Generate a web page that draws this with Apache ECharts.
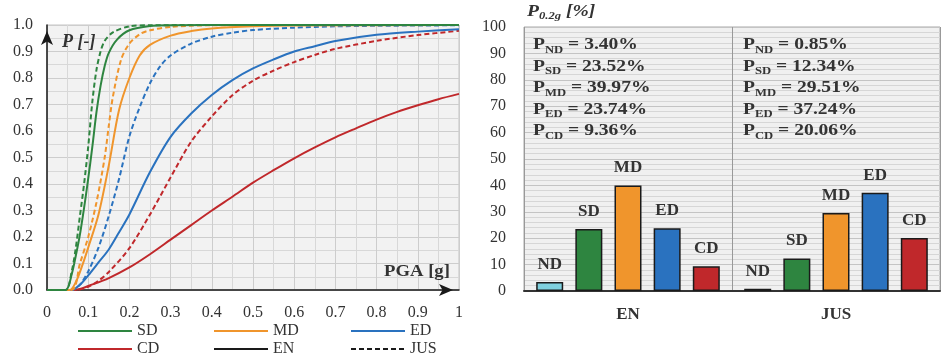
<!DOCTYPE html>
<html>
<head>
<meta charset="utf-8">
<script src="https://cdn.jsdelivr.net/npm/echarts@6/dist/echarts.min.js"></script>
<style>
  html, body { margin: 0; padding: 0; background: #fff; }
  #chart { width: 945px; height: 358px; }
</style>
</head>
<body>
<div id="chart"></div>
<script>
// fragility curves [PGA, P]
var sdEN = [[0,0],[0.045,0],[0.06,0.06],[0.07,0.13],[0.08,0.21],[0.09,0.31],[0.1,0.42],[0.11,0.54],[0.12,0.67],[0.13,0.77],[0.14,0.845],[0.15,0.895],[0.17,0.945],[0.2,0.98],[0.25,0.996],[0.3,0.999],[0.5,1],[1,1]];
var sdJUS = [[0,0],[0.045,0],[0.06,0.07],[0.07,0.16],[0.08,0.28],[0.09,0.4],[0.1,0.54],[0.11,0.71],[0.12,0.83],[0.13,0.9],[0.14,0.94],[0.16,0.972],[0.2,0.995],[0.25,0.999],[0.5,1],[1,1]];
var mdEN = [[0,0],[0.055,0],[0.07,0.03],[0.085,0.09],[0.1,0.16],[0.125,0.285],[0.15,0.47],[0.175,0.68],[0.2,0.8],[0.225,0.885],[0.25,0.925],[0.3,0.96],[0.35,0.977],[0.4,0.987],[0.5,0.995],[0.6,0.998],[1,1]];
var mdJUS = [[0,0],[0.06,0],[0.08,0.1],[0.1,0.2],[0.12,0.33],[0.14,0.5],[0.15,0.62],[0.16,0.73],[0.18,0.87],[0.2,0.93],[0.225,0.965],[0.25,0.98],[0.3,0.993],[0.4,0.999],[1,1]];
var edEN = [[0,0],[0.06,0],[0.08,0.02],[0.1,0.055],[0.125,0.104],[0.15,0.153],[0.175,0.218],[0.2,0.285],[0.25,0.445],[0.3,0.578],[0.35,0.666],[0.4,0.736],[0.45,0.792],[0.5,0.836],[0.55,0.87],[0.6,0.9],[0.65,0.92],[0.7,0.94],[0.8,0.963],[0.9,0.975],[1,0.984]];
var edJUS = [[0,0],[0.06,0],[0.08,0.02],[0.1,0.07],[0.125,0.16],[0.15,0.28],[0.175,0.42],[0.2,0.58],[0.225,0.69],[0.25,0.78],[0.275,0.845],[0.3,0.885],[0.35,0.93],[0.4,0.956],[0.45,0.971],[0.5,0.981],[0.6,0.99],[0.7,0.995],[0.8,0.997],[1,0.999]];
var cdEN = [[0,0],[0.06,0],[0.08,0.004],[0.1,0.015],[0.15,0.045],[0.2,0.085],[0.25,0.135],[0.3,0.19],[0.35,0.245],[0.4,0.3],[0.45,0.352],[0.5,0.405],[0.55,0.452],[0.6,0.497],[0.65,0.538],[0.7,0.576],[0.75,0.61],[0.8,0.643],[0.85,0.672],[0.9,0.697],[0.95,0.72],[1,0.74]];
var cdJUS = [[0,0],[0.07,0],[0.1,0.012],[0.125,0.035],[0.15,0.068],[0.2,0.158],[0.25,0.285],[0.3,0.425],[0.35,0.56],[0.4,0.655],[0.45,0.735],[0.5,0.79],[0.55,0.828],[0.6,0.86],[0.65,0.887],[0.7,0.91],[0.8,0.94],[0.9,0.962],[1,0.978]];

// bar panel (P at 0.2g, %)
var groups = ['EN', 'JUS'];
var damage = ['ND', 'SD', 'MD', 'ED', 'CD'];
var enPct = [3.40, 23.52, 39.97, 23.74, 9.36];
var jusPct = [0.85, 12.34, 29.51, 37.24, 20.06];

var xTickLabels = ['0','0.1','0.2','0.3','0.4','0.5','0.6','0.7','0.8','0.9','1'];
var yTickLabels = ['0.0','0.1','0.2','0.3','0.4','0.5','0.6','0.7','0.8','0.9','1.0'];

var colors = { ND: '#7fd0de', SD: '#2e8540', MD: '#f0952c', ED: '#2a72bf', CD: '#c0282b' };
var serif = '"Liberation Serif", "DejaVu Serif", serif';
var txt = '#333333';

var chart = echarts.init(document.getElementById('chart'));

function curve(name, data, color, dashed) {
  return {
    name: name, type: 'line', xAxisIndex: 0, yAxisIndex: 0,
    data: data, symbol: 'none', smooth: 0.3,
    lineStyle: { color: color, width: 2, type: dashed ? [5, 3] : 'solid' },
    z: 3, silent: true
  };
}
function dummy(name, color, dashed) {
  return {
    name: name, type: 'line', data: [], symbol: 'none',
    itemStyle: { color: color },
    lineStyle: { color: color, width: 2, type: dashed ? [5, 3] : 'solid' }
  };
}
function legendCol(left, names) {
  return {
    orient: 'vertical', left: left, top: 323, data: names,
    itemWidth: 54, itemHeight: 14, itemGap: 2, padding: 0,
    itemStyle: { opacity: 0 },
    textStyle: { fontFamily: serif, fontSize: 16, color: txt, lineHeight: 14 },
    selectedMode: false
  };
}

// rich text boxes with subscripts
function pBox(vals) {
  return damage.map(function (d, i) {
    return '{p|P}{s|' + d + '}{p| = ' + vals[i].toFixed(2) + '%}';
  }).join('\n');
}
var boxRich = {
  p: { fontFamily: serif, fontSize: 17, fontWeight: 'bold', fill: txt, lineHeight: 21.5 },
  s: { fontFamily: serif, fontSize: 11, fontWeight: 'bold', fill: txt, lineHeight: 21.5, verticalAlign: 'bottom' }
};

var barSeries = damage.map(function (d, i) {
  return {
    name: d, type: 'bar', xAxisIndex: 1, yAxisIndex: 1,
    data: [enPct[i], jusPct[i]],
    barWidth: 27, barGap: '45%',
    itemStyle: { color: colors[d], borderColor: '#1a1a1a', borderWidth: 1.5 },
    label: {
      show: true, position: 'top', distance: 9, formatter: d,
      fontFamily: serif, fontSize: 17, fontWeight: 'bold', color: txt
    },
    z: 3
  };
});

var option = {
  animation: false,
  backgroundColor: '#ffffff',
  grid: [
    { left: 47, right: 486, top: 25, bottom: 68, show: true, backgroundColor: '#f2f2f2', borderColor: '#c4c4c4', borderWidth: 1, containLabel: false, outerBoundsMode: 'none' },
    { left: 524, right: 5, top: 27, bottom: 67, show: true, backgroundColor: '#f0f0f0', borderColor: '#a8a8a8', borderWidth: 1, containLabel: false, outerBoundsMode: 'none' }
  ],
  legend: [
    legendCol(77, ['SD', 'CD']),
    legendCol(213, ['MD', 'EN']),
    legendCol(350, ['ED', 'JUS'])
  ],
  xAxis: [
    {
      type: 'value', gridIndex: 0, min: 0, max: 1, interval: 0.1,
      axisLine: { show: true, onZero: false, lineStyle: { color: '#1a1a1a', width: 1.5 }, symbol: ['none', 'arrow'], symbolSize: [9, 14], symbolOffset: [0, -6] },
      axisTick: { show: false },
      axisLabel: { margin: 15, fontFamily: serif, fontSize: 16, color: txt, formatter: function (v) { return xTickLabels[Math.round(v * 10)]; } },
      splitLine: { show: true, lineStyle: { color: '#cdcdcd', width: 1 } },
      minorTick: { show: false, splitNumber: 2 },
      minorSplitLine: { show: true, lineStyle: { color: '#d8d8d8', width: 1 } }
    },
    {
      type: 'category', gridIndex: 1, data: groups,
      axisLine: { show: true, lineStyle: { color: '#333333', width: 2 } },
      axisTick: { show: false },
      axisLabel: { margin: 15, fontFamily: serif, fontSize: 17, fontWeight: 'bold', color: txt },
      splitLine: { show: true, interval: 0, lineStyle: { color: '#999999', width: 1 } }
    }
  ],
  yAxis: [
    {
      type: 'value', gridIndex: 0, min: 0, max: 1, interval: 0.1,
      axisLine: { show: true, onZero: false, lineStyle: { color: '#1a1a1a', width: 1.5 }, symbol: ['none', 'arrow'], symbolSize: [9, 14], symbolOffset: [0, -6] },
      axisTick: { show: false },
      axisLabel: { margin: 14, fontFamily: serif, fontSize: 16, color: txt, formatter: function (v) { return yTickLabels[Math.round(v * 10)]; } },
      splitLine: { show: true, lineStyle: { color: '#cdcdcd', width: 1 } },
      minorTick: { show: false, splitNumber: 2 },
      minorSplitLine: { show: true, lineStyle: { color: '#d8d8d8', width: 1 } }
    },
    {
      type: 'value', gridIndex: 1, min: 0, max: 100, interval: 10,
      axisLine: { show: false },
      axisTick: { show: false },
      axisLabel: { margin: 18, fontFamily: serif, fontSize: 16, color: txt },
      splitLine: { show: true, lineStyle: { color: '#c4c4c4', width: 1 } },
      minorTick: { show: false, splitNumber: 5 },
      minorSplitLine: { show: true, lineStyle: { color: '#d6d6d6', width: 1 } }
    }
  ],
  graphic: [
    { type: 'text', x: 62, y: 33, z: 10, style: { text: 'P [-]', font: 'italic bold 18px ' + serif, fill: txt } },
    { type: 'text', x: 384, y: 263, scaleX: 1.1, z: 10, style: { text: 'PGA [g]', font: 'bold 17px ' + serif, fill: txt } },
    { type: 'text', x: 527, y: 2, scaleX: 1.15, z: 10, style: {
        text: '{p|P}{s|0.2g}{p| [%]}',
        rich: {
          p: { fontFamily: serif, fontSize: 17, fontWeight: 'bold', fontStyle: 'italic', fill: txt, lineHeight: 20 },
          s: { fontFamily: serif, fontSize: 11, fontWeight: 'bold', fontStyle: 'italic', fill: txt, lineHeight: 20, verticalAlign: 'bottom' }
        }
      } },
    { type: 'text', x: 533, y: 34, scaleX: 1.15, z: 10, style: { text: pBox(enPct), rich: boxRich } },
    { type: 'text', x: 743, y: 34, scaleX: 1.15, z: 10, style: { text: pBox(jusPct), rich: boxRich } }
  ],
  series: [
    dummy('SD', colors.SD, false),
    dummy('MD', colors.MD, false),
    dummy('ED', colors.ED, false),
    dummy('CD', colors.CD, false),
    dummy('EN', '#1a1a1a', false),
    dummy('JUS', '#1a1a1a', true),
    curve('CD-EN', cdEN, colors.CD, false),
    curve('CD-JUS', cdJUS, colors.CD, true),
    curve('ED-EN', edEN, colors.ED, false),
    curve('ED-JUS', edJUS, colors.ED, true),
    curve('MD-EN', mdEN, colors.MD, false),
    curve('MD-JUS', mdJUS, colors.MD, true),
    curve('SD-EN', sdEN, colors.SD, false),
    curve('SD-JUS', sdJUS, colors.SD, true)
  ].concat(barSeries)
};

chart.setOption(option);
</script>
</body>
</html>
